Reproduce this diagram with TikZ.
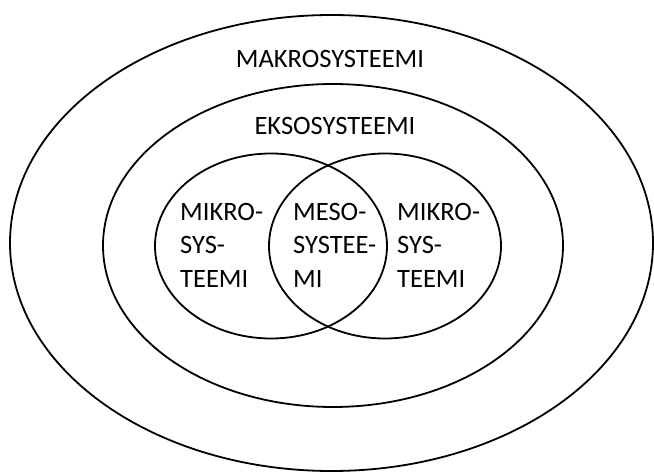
\documentclass[tikz,border=0pt]{standalone}
\usepackage{fontspec}
\setmainfont{Carlito}
\usetikzlibrary{shapes.geometric}
\definecolor{color1}{RGB}{255,255,255}
\definecolor{color2}{RGB}{0,0,0}

\begin{document}
\begin{tikzpicture}
	\useasboundingbox[fill=color1] (0pt,0pt) rectangle (654pt,-473pt);
	\tikzset{ring/.style={draw=color2, line width=1.8pt, ellipse, inner sep=0pt}}
	\tikzset{label/.style={inner sep=0pt, font=\fontsize{26.5}{33.5}\selectfont}}
	\node[ring, minimum width=643pt, minimum height=456pt] (makro) at (331.5pt ,-243pt) {};
	\node[ring, minimum width=460pt, minimum height=323pt] (ekso) at (333pt ,-245.5pt) {};
	\node[ring, minimum width=232pt, minimum height=185pt] (mikroA) at (271pt ,-246pt) {};
	\node[ring, minimum width=232pt, minimum height=185pt] (mikroB) at (385pt ,-246pt) {};
	% texts
	\node[label, anchor=base] (tmakro) at (330pt ,-68pt) {MAKROSYSTEEMI};
	\node[label, anchor=base] (tekso) at (335pt ,-135pt) {EKSOSYSTEEMI};
	\node[label, anchor=north west, align=left] (tmikroA) at (180pt ,-203pt) {MIKRO-\\SYS-\\TEEMI};
	\node[label, anchor=north west, align=left] (tmeso) at (293pt ,-203pt) {MESO-\\SYSTEE-\\MI};
	\node[label, anchor=north west, align=left] (tmikroB) at (397pt ,-203pt) {MIKRO-\\SYS-\\TEEMI};
\end{tikzpicture}
\end{document}
